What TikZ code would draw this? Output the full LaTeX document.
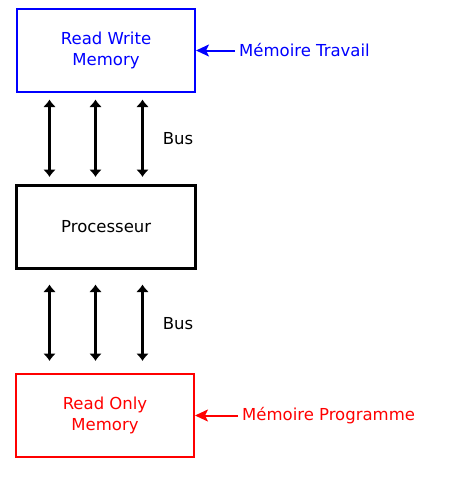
\documentclass[tikz,border=0pt]{standalone}
\usepackage{fontspec}
\setmainfont{DejaVu Sans}
\usetikzlibrary{arrows.meta}
\begin{document}
\begin{tikzpicture}[x=1pt,y=-1pt,
  every node/.style={font=\fontsize{16.5}{21}\selectfont},
  membox/.style={draw, line width=2pt, minimum width=178pt, minimum height=83pt, align=center, inner sep=0pt},
  procbox/.style={draw, line width=3pt, minimum width=179.3pt, minimum height=82.8pt, align=center, inner sep=0pt},
  bus/.style={line width=3pt, {Latex[length=7.5pt,width=13pt]}-{Latex[length=7.5pt,width=13pt]}},
  pointer/.style={line width=2pt, -{Stealth[length=13pt,width=12pt,inset=3pt]}, shorten <=4pt},
  lbl/.style={anchor=west, inner sep=0pt}
]
\useasboundingbox (0,0) rectangle (464,480);
\node[membox, draw=blue, text=blue] (rw) at (106,50.5) {Read Write\\Memory};
\node[procbox] (proc) at (106.2,226.9) {Processeur};
\node[membox, draw=red, text=red] (rom) at (105,415.5) {Read Only\\Memory};

\foreach \x [count=\i] in {49.5,95.5,142.5} {
  \coordinate (ut\i) at (\x,99.5);
  \coordinate (ub\i) at (\x,177);
  \coordinate (lt\i) at (\x,284.5);
  \coordinate (lb\i) at (\x,361);
  \draw[bus] (ut\i) -- (ub\i);
  \draw[bus] (lt\i) -- (lb\i);
}
\node (bus1) at (178,139) {Bus};
\node (bus2) at (178,324) {Bus};

\node[lbl, text=blue] (mt) at (239,50.5) {Mémoire Travail};
\node[lbl, text=red] (mp) at (242,415.5) {Mémoire Programme};
\draw[pointer, blue] (mt.west) -- (rw.east);
\draw[pointer, red] (mp.west) -- (rom.east);
\end{tikzpicture}
\end{document}
